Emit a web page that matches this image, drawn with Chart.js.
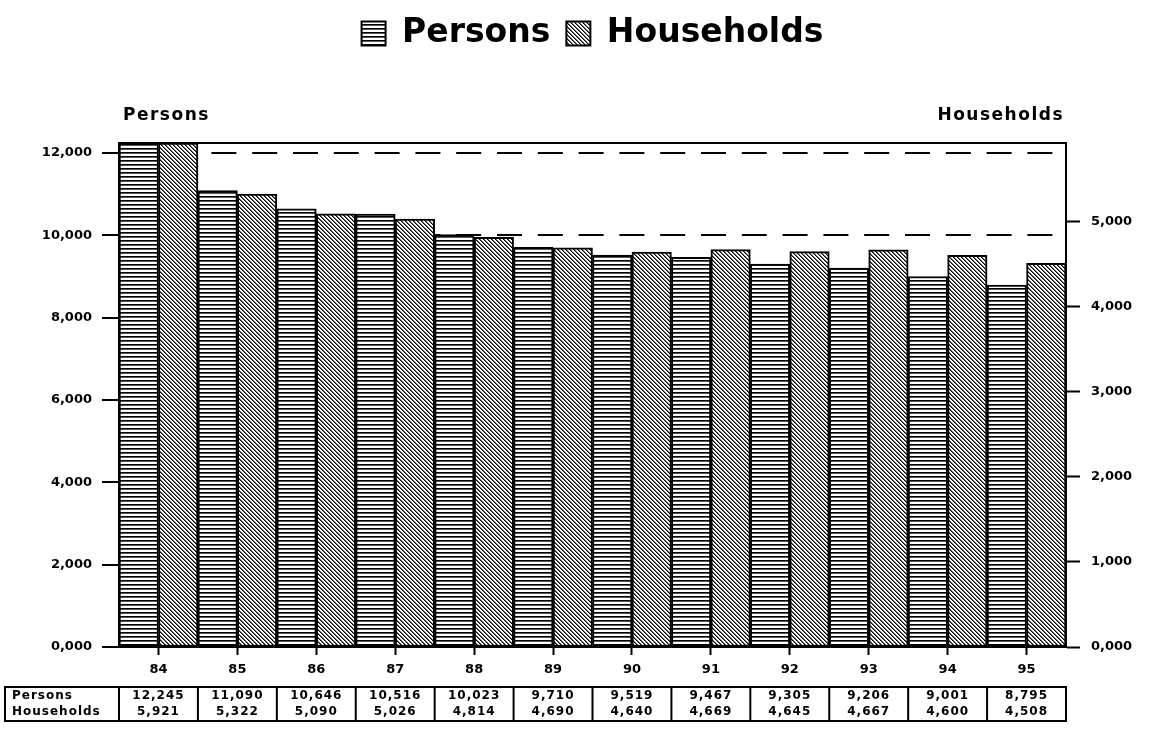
<!DOCTYPE html>
<html>
<head>
<meta charset="utf-8">
<script src="https://cdn.jsdelivr.net/npm/chart.js@4.4.1/dist/chart.umd.min.js"></script>
<style>
  body { margin: 0; background: #fff; }
  canvas { display: block; }
</style>
</head>
<body>
<canvas id="chart" width="1151" height="730"></canvas>
<script>
// values
const years = ['84', '85', '86', '87', '88', '89', '90', '91', '92', '93', '94', '95'];
const persons = [12245, 11090, 10646, 10516, 10023, 9710, 9519, 9467, 9305, 9206, 9001, 8795];
const households = [5921, 5322, 5090, 5026, 4814, 4690, 4640, 4669, 4645, 4667, 4600, 4508];
const rowLabels = ['Persons', 'Households'];
const personTicks = [0, 2000, 4000, 6000, 8000, 10000, 12000];
const householdTicks = [0, 1000, 2000, 3000, 4000, 5000];

const FONT = '"DejaVu Sans", sans-serif';

// fill patterns: horizontal stripes and "\" hatching
function makePattern(size, isInk) {
    const c = document.createElement('canvas');
    c.width = size; c.height = size;
    const g = c.getContext('2d');
    const img = g.createImageData(size, size);
    for (let y = 0; y < size; y++) {
        for (let x = 0; x < size; x++) {
            const v = isInk(x, y);
            const i = (y * size + x) * 4;
            img.data[i] = img.data[i + 1] = img.data[i + 2] = v;
            img.data[i + 3] = 255;
        }
    }
    g.putImageData(img, 0, 0);
    return g.createPattern(c, 'repeat');
}
const stripes = makePattern(4, (x, y) => y === 0 ? 0 : (y === 1 ? 90 : 255));
const hatch = makePattern(4, (x, y) => {
    const d = ((x - y) % 4 + 4) % 4;
    return d === 0 ? 0 : (d === 1 ? 110 : 255);
});

function fmt(v) {
    return v === 0 ? '0,000' : v.toLocaleString('en-US');
}

const extras = {
    id: 'extras',
    afterDraw(chart) {
        const ctx = chart.ctx;
        const area = chart.chartArea;
        const x = chart.scales.x;
        ctx.save();
        // top frame line
        ctx.strokeStyle = '#000';
        ctx.lineWidth = 2;
        ctx.beginPath();
        ctx.moveTo(area.left, area.top);
        ctx.lineTo(area.right, area.top);
        ctx.stroke();

        // axis headers
        ctx.fillStyle = '#000';
        ctx.font = 'bold 17px ' + FONT;
        ctx.letterSpacing = '1.5px';
        ctx.textBaseline = 'middle';
        ctx.textAlign = 'left';
        ctx.fillText('Persons', area.left + 4, 116);
        ctx.textAlign = 'right';
        ctx.fillText('Households', area.right - 2, 116);

        // data table
        const top = 687, bottom = 721;
        const left = 5;
        const step = x.width / years.length;
        ctx.lineWidth = 2;
        ctx.strokeRect(left, top, area.right - left, bottom - top);
        ctx.beginPath();
        for (let i = 0; i < years.length; i++) {
            const sx = x.getPixelForValue(i) - step / 2;
            ctx.moveTo(sx, top);
            ctx.lineTo(sx, bottom);
        }
        ctx.stroke();
        ctx.font = 'bold 12px ' + FONT;
        ctx.letterSpacing = '1px';
        const rows = [persons, households];
        const rowY = [top + 9, top + 25];
        rows.forEach((vals, r) => {
            ctx.textAlign = 'left';
            ctx.fillText(rowLabels[r], left + 7, rowY[r]);
            ctx.textAlign = 'center';
            vals.forEach((v, i) => {
                ctx.fillText(v.toLocaleString('en-US'), x.getPixelForValue(i), rowY[r]);
            });
        });
        ctx.restore();
    }
};

const ctx = document.getElementById('chart').getContext('2d');
const chart = new Chart(ctx, {
    type: 'bar',
    data: {
        labels: years,
        datasets: [
            {
                label: 'Persons',
                data: persons,
                yAxisID: 'y',
                backgroundColor: stripes,
                borderColor: '#000',
                borderWidth: 2,
                borderSkipped: false
            },
            {
                label: 'Households',
                data: households,
                yAxisID: 'y1',
                backgroundColor: hatch,
                borderColor: '#000',
                borderWidth: 2,
                borderSkipped: false
            }
        ]
    },
    options: {
        responsive: false,
        animation: false,
        devicePixelRatio: 1,
        categoryPercentage: 1,
        barPercentage: 1,
        layout: { padding: { top: 1, left: 0, right: 0, bottom: 0 } },
        scales: {
            x: {
                afterFit(s) { s.height = 83; },
                grid: {
                    offset: false,
                    drawOnChartArea: false,
                    tickLength: 8,
                    tickColor: '#000',
                    tickWidth: 2
                },
                border: { color: '#000', width: 2 },
                ticks: {
                    color: '#000',
                    padding: 7,
                    font: { family: FONT, size: 13, weight: 'bold' }
                }
            },
            y: {
                position: 'left',
                min: 0,
                max: 12245,
                afterFit(s) { s.width = 119; },
                afterBuildTicks(s) { s.ticks = personTicks.map(v => ({ value: v })); },
                grid: {
                    color: '#000',
                    lineWidth: 2,
                    tickLength: 17,
                    tickColor: '#000',
                    tickWidth: 2,
                    tickBorderDash: []
                },
                border: { display: true, color: '#000', width: 2, dash: [25, 15.8], dashOffset: 31 },
                ticks: {
                    color: '#000',
                    padding: 10,
                    font: { family: FONT, size: 13, weight: 'bold' },
                    callback: fmt
                }
            },
            y1: {
                position: 'right',
                min: 0,
                max: 5921,
                afterFit(s) { s.width = 85; },
                afterBuildTicks(s) { s.ticks = householdTicks.map(v => ({ value: v })); },
                grid: {
                    drawOnChartArea: false,
                    tickLength: 14,
                    tickColor: '#000',
                    tickWidth: 2
                },
                border: { color: '#000', width: 2 },
                ticks: {
                    color: '#000',
                    padding: 11,
                    font: { family: FONT, size: 13, weight: 'bold' },
                    callback: fmt
                }
            }
        },
        plugins: {
            legend: {
                position: 'top',
                fullSize: false,
                labels: {
                    color: '#000',
                    boxWidth: 24,
                    boxHeight: 24,
                    padding: 16,
                    font: { family: FONT, size: 33, weight: 'bold' }
                }
            },
            // empty spacer between legend and plot
            subtitle: {
                display: true,
                text: '',
                weight: 500,
                font: { size: 10 },
                padding: { top: 71, bottom: 0 }
            },
            tooltip: { enabled: false }
        }
    },
    plugins: [extras]
});
</script>
</body>
</html>
